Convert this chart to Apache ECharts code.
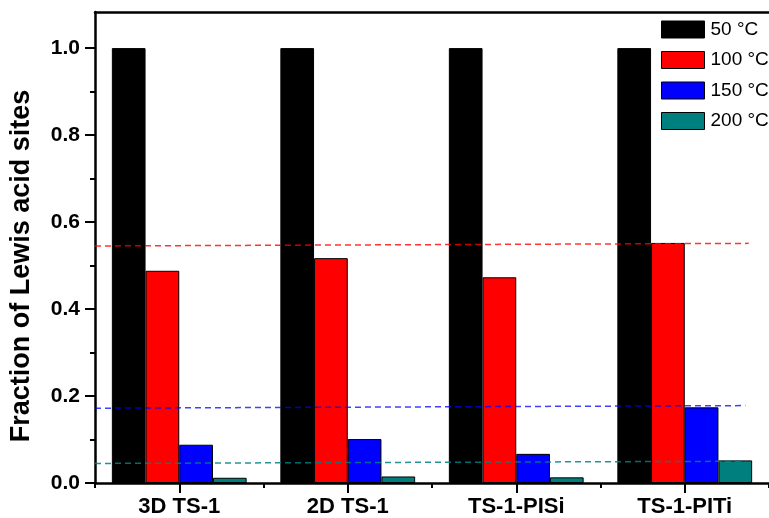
<!DOCTYPE html>
<html>
<head>
<meta charset="utf-8">
<script src="https://cdn.jsdelivr.net/npm/echarts@6/dist/echarts.min.js"></script>
<style>
html,body{margin:0;padding:0;background:#fff;}
#chart{width:769px;height:518px;}
</style>
</head>
<body>
<div id="chart"></div>
<script>
const categories = ['3D TS-1', '2D TS-1', 'TS-1-PISi', 'TS-1-PITi'];
const seriesNames = ['50 °C', '100 °C', '150 °C', '200 °C'];
const v50 = [1.0, 1.0, 1.0, 1.0];
const v100 = [0.488, 0.517, 0.473, 0.552];
const v150 = [0.088, 0.101, 0.067, 0.174];
const v200 = [0.012, 0.015, 0.013, 0.052];
const yMajorTicks = [0, 0.2, 0.4, 0.6, 0.8, 1.0];
const yMinorTicks = [0.1, 0.3, 0.5, 0.7, 0.9];
const refRed = [[0, 0.545], [3.88, 0.551]];
const refBlue = [[0, 0.172], [3.86, 0.178]];
const refTeal = [[0, 0.045], [3.86, 0.050]];
const yMax = 1.083;

const colors = ['#000000', '#ff0000', '#0000ff', '#007f7f'];
const FONT = "'Liberation Sans', Arial, sans-serif";

const chart = echarts.init(document.getElementById('chart'), null, {renderer: 'canvas'});

const barSeries = [v50, v100, v150, v200].map((d, i) => ({
  name: seriesNames[i],
  type: 'bar',
  xAxisIndex: 0,
  yAxisIndex: 0,
  data: d,
  barGap: '0%',
  barCategoryGap: '20%',
  itemStyle: {color: colors[i], borderColor: '#000', borderWidth: 1},
  z: 2
}));

function refLine(data, color) {
  return {
    type: 'line',
    xAxisIndex: 2,
    yAxisIndex: 0,
    data: data,
    symbol: 'none',
    silent: true,
    lineStyle: {color: color, width: 1.5, type: [6, 4]},
    z: 5
  };
}

chart.setOption({
  animation: false,
  backgroundColor: '#ffffff',
  color: colors,
  grid: {left: 95, top: 12, bottom: 35, width: 677, containLabel: false},
  legend: {
    orient: 'vertical',
    left: 661,
    top: 20,
    padding: 0,
    itemWidth: 43,
    itemHeight: 17,
    itemGap: 11.5,
    icon: 'rect',
    data: seriesNames,
    itemStyle: {borderColor: '#000', borderWidth: 1},
    textStyle: {fontFamily: FONT, fontSize: 19, color: '#000', lineHeight: 17, padding: [0, 0, 0, 1]}
  },
  xAxis: [
    {
      type: 'category',
      position: 'bottom',
      data: categories,
      axisLine: {show: true, onZero: false, lineStyle: {color: '#000', width: 2.5}},
      axisTick: {show: true, alignWithLabel: true, inside: false, length: 10, lineStyle: {color: '#000', width: 2}},
      axisLabel: {fontFamily: FONT, fontSize: 22, fontWeight: 'bold', color: '#000', margin: 13},
      splitLine: {show: false}
    },
    {
      type: 'category',
      position: 'bottom',
      data: categories,
      axisLine: {show: false, onZero: false},
      axisTick: {show: true, alignWithLabel: false, length: 5, lineStyle: {color: '#000', width: 2}},
      axisLabel: {show: false},
      splitLine: {show: false}
    },
    {
      type: 'value',
      position: 'top',
      min: 0,
      max: 4,
      axisLine: {show: true, onZero: false, lineStyle: {color: '#000', width: 2.5}},
      axisTick: {show: false},
      axisLabel: {show: false},
      splitLine: {show: false}
    }
  ],
  yAxis: [
    {
      type: 'value',
      position: 'left',
      min: 0,
      max: yMax,
      axisLine: {show: true, onZero: false, lineStyle: {color: '#000', width: 2.5}},
      axisTick: {show: true, length: 10, customValues: yMajorTicks, lineStyle: {color: '#000', width: 2}},
      axisLabel: {
        customValues: yMajorTicks,
        fontFamily: FONT, fontSize: 21, fontWeight: 'bold', color: '#000', margin: 15,
        formatter: v => v.toFixed(1)
      },
      splitLine: {show: false}
    },
    {
      type: 'value',
      position: 'left',
      min: 0,
      max: yMax,
      axisLine: {show: false, onZero: false},
      axisTick: {show: true, length: 5, customValues: yMinorTicks, lineStyle: {color: '#000', width: 2}},
      axisLabel: {show: false},
      splitLine: {show: false}
    }
  ],
  graphic: [{
    type: 'text',
    x: 22,
    y: 266,
    rotation: Math.PI / 2,
    style: {
      text: 'Fraction of Lewis acid sites',
      font: "bold 27px 'Liberation Sans', Arial, sans-serif",
      fill: '#000',
      textAlign: 'center',
      textVerticalAlign: 'middle'
    }
  }],
  series: barSeries.concat([
    refLine(refRed, 'rgba(255,0,0,0.8)'),
    refLine(refBlue, 'rgba(0,0,255,0.75)'),
    refLine(refTeal, 'rgba(0,128,128,0.85)')
  ])
});
</script>
</body>
</html>
